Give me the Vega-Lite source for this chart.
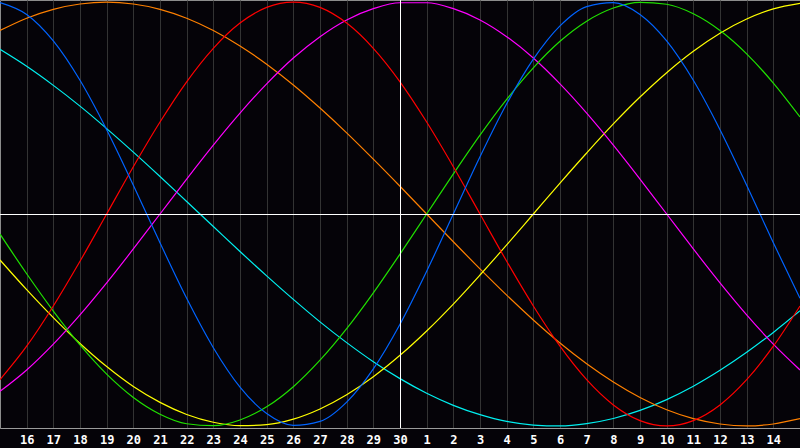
{
  "$schema": "https://vega.github.io/schema/vega-lite/v6.json",
  "width": 800,
  "height": 428,
  "autosize": {"type": "none"},
  "padding": {"left": 0, "top": 0, "right": 0, "bottom": 20},
  "background": "#050308",
  "config": {"view": {"stroke": "#8c8c8c", "strokeWidth": 1, "fill": "#050308"}, "axis": {"labelOverlap": false}},
  "layer": [
    {
      "data": {"values": [
        {"d":0,"p":0.998,"e":-0.782,"i":-0.095,"n":-0.837,"a":-0.217,"w":0.866,"s":0.777},
        {"d":1,"p":0.942,"e":-0.624,"i":-0.282,"n":-0.736,"a":-0.357,"w":0.924,"s":0.697},
        {"d":2,"p":0.817,"e":-0.434,"i":-0.458,"n":-0.614,"a":-0.489,"w":0.966,"s":0.607},
        {"d":3,"p":0.631,"e":-0.223,"i":-0.618,"n":-0.476,"a":-0.611,"w":0.991,"s":0.509},
        {"d":4,"p":0.398,"e":0,"i":-0.756,"n":-0.325,"a":-0.720,"w":1,"s":0.403},
        {"d":5,"p":0.136,"e":0.223,"i":-0.866,"n":-0.165,"a":-0.814,"w":0.991,"s":0.292},
        {"d":6,"p":-0.136,"e":0.434,"i":-0.945,"n":0,"a":-0.889,"w":0.966,"s":0.177},
        {"d":7,"p":-0.398,"e":0.624,"i":-0.990,"n":0.165,"a":-0.946,"w":0.924,"s":0.059},
        {"d":8,"p":-0.631,"e":0.782,"i":-0.999,"n":0.325,"a":-0.983,"w":0.866,"s":-0.059},
        {"d":9,"p":-0.817,"e":0.901,"i":-0.972,"n":0.476,"a":-0.999,"w":0.793,"s":-0.177},
        {"d":10,"p":-0.942,"e":0.975,"i":-0.910,"n":0.614,"a":-0.994,"w":0.707,"s":-0.292},
        {"d":11,"p":-0.998,"e":1,"i":-0.815,"n":0.736,"a":-0.968,"w":0.609,"s":-0.403},
        {"d":12,"p":-0.979,"e":0.975,"i":-0.690,"n":0.837,"a":-0.920,"w":0.5,"s":-0.509},
        {"d":13,"p":-0.888,"e":0.901,"i":-0.541,"n":0.916,"a":-0.853,"w":0.383,"s":-0.607},
        {"d":14,"p":-0.731,"e":0.782,"i":-0.372,"n":0.969,"a":-0.768,"w":0.259,"s":-0.697},
        {"d":15,"p":-0.520,"e":0.624,"i":-0.189,"n":0.997,"a":-0.667,"w":0.131,"s":-0.777},
        {"d":16,"p":-0.270,"e":0.434,"i":0,"n":0.997,"a":-0.552,"w":0,"s":-0.846},
        {"d":17,"p":0,"e":0.223,"i":0.189,"n":0.969,"a":-0.425,"w":-0.131,"s":-0.903},
        {"d":18,"p":0.270,"e":0,"i":0.372,"n":0.916,"a":-0.288,"w":-0.259,"s":-0.947},
        {"d":19,"p":0.520,"e":-0.223,"i":0.541,"n":0.837,"a":-0.146,"w":-0.383,"s":-0.979},
        {"d":20,"p":0.731,"e":-0.434,"i":0.690,"n":0.736,"a":0,"w":-0.5,"s":-0.996},
        {"d":21,"p":0.888,"e":-0.624,"i":0.815,"n":0.614,"a":0.146,"w":-0.609,"s":-1.0},
        {"d":22,"p":0.979,"e":-0.782,"i":0.910,"n":0.476,"a":0.288,"w":-0.707,"s":-0.989},
        {"d":23,"p":0.998,"e":-0.901,"i":0.972,"n":0.325,"a":0.425,"w":-0.793,"s":-0.965},
        {"d":24,"p":0.942,"e":-0.975,"i":0.999,"n":0.165,"a":0.552,"w":-0.866,"s":-0.927},
        {"d":25,"p":0.817,"e":-1,"i":0.990,"n":0,"a":0.667,"w":-0.924,"s":-0.876},
        {"d":26,"p":0.631,"e":-0.975,"i":0.945,"n":-0.165,"a":0.768,"w":-0.966,"s":-0.813},
        {"d":27,"p":0.398,"e":-0.901,"i":0.866,"n":-0.325,"a":0.853,"w":-0.991,"s":-0.738},
        {"d":28,"p":0.136,"e":-0.782,"i":0.756,"n":-0.476,"a":0.920,"w":-1,"s":-0.653},
        {"d":29,"p":-0.136,"e":-0.624,"i":0.618,"n":-0.614,"a":0.968,"w":-0.991,"s":-0.559},
        {"d":30,"p":-0.398,"e":-0.434,"i":0.458,"n":-0.736,"a":0.994,"w":-0.966,"s":-0.457}
      ]},
      "transform": [{"fold": ["s", "w", "a", "n", "i", "e", "p"], "as": ["k", "v"]}],
      "mark": {"type": "line", "strokeWidth": 1.2, "interpolate": "monotone"},
      "encoding": {
        "x": {
          "field": "d", "type": "quantitative",
          "scale": {"domain": [0, 30], "nice": false, "zero": false},
          "axis": {
            "values": [1,2,3,4,5,6,7,8,9,10,11,12,13,14,15,16,17,18,19,20,21,22,23,24,25,26,27,28,29],
            "labelExpr": "datum.value <= 15 ? datum.value + 15 : datum.value - 15",
            "grid": true, "gridColor": "#333333", "gridWidth": 1,
            "ticks": false, "domainColor": "#9a9a9a", "domainWidth": 1,
            "labelColor": "#ffffff", "labelFont": "DejaVu Sans Mono", "labelFontWeight": "bold",
            "labelFontSize": 12, "labelPadding": 6, "labelFlush": false, "labelOverlap": false,
            "labelBound": false, "title": null
          }
        },
        "y": {
          "field": "v", "type": "quantitative",
          "scale": {"domain": [-1.01, 1.01], "nice": false, "zero": false},
          "axis": null
        },
        "color": {
          "field": "k", "type": "nominal", "legend": null,
          "scale": {
            "domain": ["s", "w", "a", "n", "i", "e", "p"],
            "range": ["#00f0f0", "#ff8000", "#ffff00", "#ff00ff", "#20e000", "#ff0000", "#0064ff"]
          }
        }
      }
    },
    {
      "data": {"values": [{"v": 0}]},
      "mark": {"type": "rule", "color": "#ffffff", "strokeWidth": 1, "yOffset": 0.5},
      "encoding": {"y": {"field": "v", "type": "quantitative", "axis": null}}
    },
    {
      "data": {"values": [{"d": 15}]},
      "mark": {"type": "rule", "color": "#ffffff", "strokeWidth": 1, "xOffset": 0.5},
      "encoding": {
        "x": {
          "field": "d", "type": "quantitative",
          "axis": {
            "values": [1,2,3,4,5,6,7,8,9,10,11,12,13,14,15,16,17,18,19,20,21,22,23,24,25,26,27,28,29],
            "labelExpr": "datum.value <= 15 ? datum.value + 15 : datum.value - 15",
            "grid": true, "gridColor": "#333333", "gridWidth": 1,
            "ticks": false, "domainColor": "#9a9a9a", "domainWidth": 1,
            "labelColor": "#ffffff", "labelFont": "DejaVu Sans Mono", "labelFontWeight": "bold",
            "labelFontSize": 12, "labelPadding": 6, "labelFlush": false, "labelOverlap": false,
            "labelBound": false, "title": null
          }
        }
      }
    }
  ]
}
